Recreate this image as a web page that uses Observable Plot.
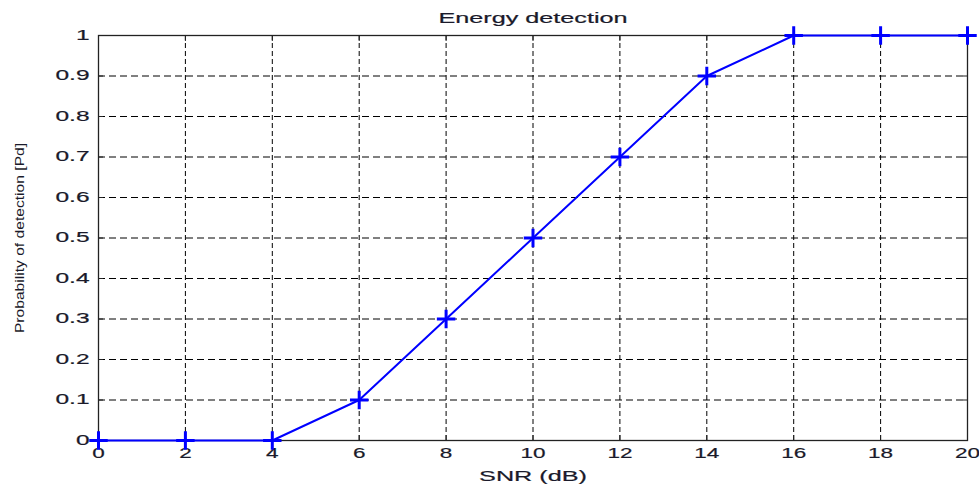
<!DOCTYPE html>
<html>
<head>
<meta charset="utf-8">
<script src="https://cdn.jsdelivr.net/npm/d3@7"></script>
<script src="https://cdn.jsdelivr.net/npm/@observablehq/plot@0.6"></script>
<style>
  html, body { margin: 0; padding: 0; background: white; }
  #chart { width: 979px; height: 486px; }
  #chart svg text { stroke: #1a1a2a; stroke-width: 0.2px; fill: #1a1a2a; }
  #chart svg text.ylab { stroke: none; }
</style>
</head>
<body>
<div id="chart"></div>
<script>
const snr = [0, 2, 4, 6, 8, 10, 12, 14, 16, 18, 20];
const pd = [0, 0, 0, 0.1, 0.3, 0.5, 0.7, 0.9, 1, 1, 1];
const xTicks = [0, 2, 4, 6, 8, 10, 12, 14, 16, 18, 20];
const yTicks = [0, 0.1, 0.2, 0.3, 0.4, 0.5, 0.6, 0.7, 0.8, 0.9, 1];
const titleText = "Energy detection";
const xLabel = "SNR (dB)";
const yLabel = "Probability of detection [Pd]";

const data = snr.map((x, i) => ({x, y: pd[i]}));
const fmtY = d => String(+d.toFixed(1));
const blank = () => "";

const svg = Plot.plot({
  width: 979,
  height: 486,
  marginLeft: 98,
  marginRight: 12,
  marginTop: 35,
  marginBottom: 46,
  style: {fontFamily: "'Liberation Sans', Arial, sans-serif", background: "white", color: "black"},
  x: {domain: [0, 20], label: null},
  y: {domain: [0, 1], label: null},
  marks: [
    Plot.gridX(xTicks, {stroke: "black", strokeOpacity: 1, strokeWidth: 1, strokeDasharray: "5,3"}),
    Plot.gridY(yTicks, {stroke: "black", strokeOpacity: 1, strokeWidth: 1, strokeDasharray: "7,4"}),
    Plot.axisX(xTicks, {anchor: "bottom", tickSize: 0, tickPadding: 7, fontSize: 15}),
    Plot.axisY(yTicks, {anchor: "left", tickSize: 0, tickPadding: 9, fontSize: 14, tickFormat: fmtY}),
    Plot.axisX(xTicks, {anchor: "bottom", tickSize: -5, tickFormat: blank, stroke: "#222"}),
    Plot.axisX(xTicks, {anchor: "top", tickSize: -5, tickFormat: blank, stroke: "#222"}),
    Plot.axisY(yTicks, {anchor: "left", tickSize: -5, tickFormat: blank, stroke: "#222"}),
    Plot.axisY(yTicks, {anchor: "right", tickSize: -5, tickFormat: blank, stroke: "#222"}),
    Plot.frame({stroke: "#222", strokeWidth: 1.3}),
    Plot.line(data, {x: "x", y: "y", stroke: "#0000ff", strokeWidth: 2}),
    Plot.dot(data, {x: "x", y: "y", symbol: "plus", r: 6, stroke: "#0000ff", strokeWidth: 3}),
    Plot.text([titleText], {text: d => d, frameAnchor: "top", dy: -17, lineAnchor: "middle", textAnchor: "middle", fontSize: 14}),
    Plot.text([xLabel], {text: d => d, frameAnchor: "bottom", dy: 36, lineAnchor: "middle", textAnchor: "middle", fontSize: 14}),
    Plot.text([yLabel], {text: d => d, frameAnchor: "left", dx: -79, rotate: -90, lineAnchor: "middle", textAnchor: "middle", fontSize: 12.5})
  ]
});
document.getElementById("chart").append(svg);

const xTickSet = new Set(xTicks.map(String));
const yTickSet = new Set(yTicks.map(fmtY));
svg.querySelectorAll("text").forEach(t => {
  const s = t.textContent;
  const g = t.closest("g[aria-label]");
  const lab = g ? g.getAttribute("aria-label") : "";
  let factor = 1;
  if (s === titleText || s === xLabel) factor = 1.8;
  else if (s === yLabel) { factor = 1.25; t.classList.add("ylab"); }
  else if (lab.startsWith("x-axis")) factor = 1.5;
  else if (lab.startsWith("y-axis")) factor = 1.75;
  else if (xTickSet.has(s)) factor = 1.5;
  else if (yTickSet.has(s)) factor = 1.75;
  if (factor === 1 || !s) return;
  const w = t.getComputedTextLength();
  if (w > 0) {
    t.setAttribute("textLength", (w * factor).toFixed(2));
    t.setAttribute("lengthAdjust", "spacingAndGlyphs");
  }
});
</script>
</body>
</html>
